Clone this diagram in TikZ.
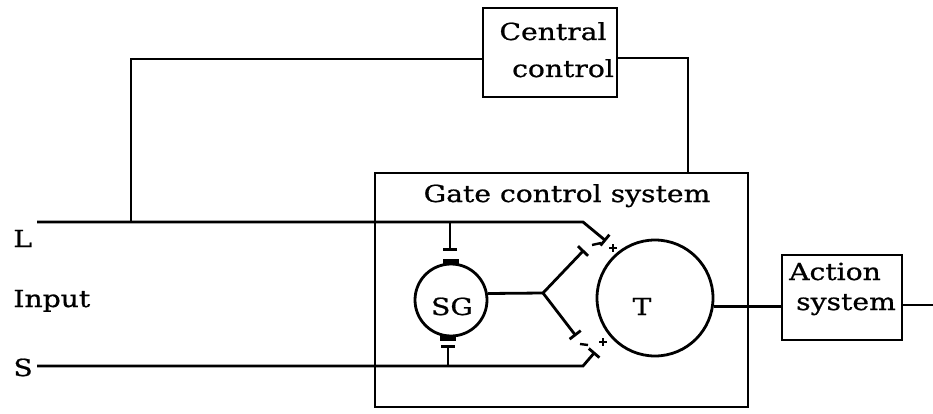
\documentclass[tikz,border=0pt]{standalone}
\usepackage{fontspec}
\setmainfont{DejaVu Serif}[FakeStretch=1.2,FakeBold=0.8]
\usetikzlibrary{arrows.meta,calc}
\begin{document}
\begin{tikzpicture}[x=1pt,y=-1pt,line width=2.8pt,
  txt/.style={font=\fontsize{23.5}{28}\selectfont,inner sep=0pt,anchor=base},
  blk/.style={draw,rectangle,inner sep=0pt},
  cell/.style={draw,circle,inner sep=0pt},
  inh/.style={-{Bar[width=14pt,line width=2.8pt]}},
  postbar/.style={line width=5pt},
  sgn/.style={line width=2.4pt}]
\useasboundingbox (0,0) rectangle (933,414);
% boxes
\node[blk,minimum width=134pt,minimum height=89pt] (cc) at (550,52.5) {};
\node[txt] (cc1) at (553,40) {Central};
\node[txt] (cc2) at (563,77) {control};
\node[blk,minimum width=373pt,minimum height=234pt] (gate) at (561.5,290) {};
\node[txt] (gtitle) at (567,202) {Gate control system};
\node[blk,minimum width=120pt,minimum height=85pt] (act) at (842,297.5) {};
\node[txt] (act1) at (835,280) {Action};
\node[txt] (act2) at (846,310) {system};
% cells
\node[cell,minimum size=72pt] (SG) at (451,300) {};
\node[txt] (SGt) at (452,315) {SG};
\node[cell,minimum size=116pt] (T) at (655,298) {};
\node[txt] (Tt) at (642,315) {T};
% input labels
\node[txt,anchor=base west] (Ll) at (12,247) {L};
\node[txt,anchor=base west] (In) at (12,307) {Input};
\node[txt,anchor=base west] (Sl) at (12,376) {S};
% coordinates
\coordinate (Ls) at (37,222);
\coordinate (Lb) at (583,222);
\coordinate (Le) at (606,241);
\coordinate (Lj) at (131,222);
\coordinate (Lt) at (131,59);
\coordinate (Rc) at (688,58);
\coordinate (Ss) at (37,366);
\coordinate (Sb) at (583,366);
\coordinate (Se) at (595,352);
\coordinate (J) at (543,293);
\coordinate (Ju) at (584,250);
\coordinate (Jd) at (576,336);
\coordinate (Lsg) at (450,222);
\coordinate (Ssg) at (448,366);
\coordinate (out) at (933,305);
% central control loop
\draw (Lj) -- (Lt) -- (Lt -| cc.west);
\draw (cc.east |- Rc) -- (Rc) -- (Rc |- gate.north);
% L fibre
\draw[inh] (Ls) -- (Lb) -- (Le);
\draw[inh] (Lsg) -- ++(0,29);
\draw[postbar] (443,261) -- (459,261);
% S fibre
\draw[inh] (Ss) -- (Sb) -- (Se);
\draw[inh] (Ssg) -- ++(0,-21);
\draw[postbar] (440,338) -- (456,338);
% SG to T
\draw (SG.10) -- (J);
\draw[inh] (J) -- (Ju);
\draw[inh] (J) -- (Jd);
% signs
\draw[sgn] (592,245) -- (601,243);
\draw[sgn] (609,248) -- (617,248) (613,244) -- (613,252);
\draw[sgn] (580,344) -- (588,345);
\draw[sgn] (599,342) -- (607,342) (603,338) -- (603,346);
% output
\draw (T.-8) -- (T.-8 -| act.west);
\draw (out -| act.east) -- (out);
\end{tikzpicture}
\end{document}
